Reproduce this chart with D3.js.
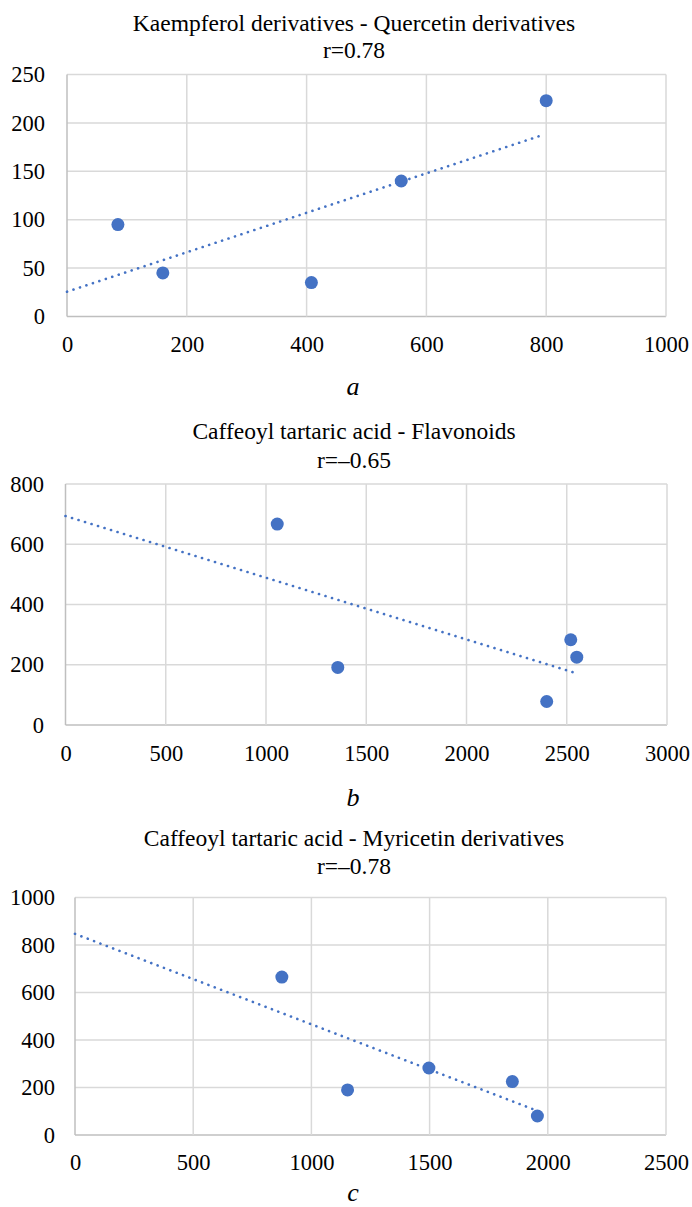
<!DOCTYPE html>
<html>
<head>
<meta charset="utf-8">
<script src="https://cdn.jsdelivr.net/npm/d3@7"></script>
<style>
  html, body { margin: 0; padding: 0; background: #fff; }
</style>
</head>
<body>
<svg id="chart" width="692" height="1207"></svg>
<script>
// --- data ---
const titlesA = ['Kaempferol derivatives - Quercetin derivatives', 'r=0.78'];
const xA = [85, 160, 408, 558, 800];
const yA = [95, 45, 35, 140, 223];
const xTicksA = [0, 200, 400, 600, 800, 1000];
const yTicksA = [0, 50, 100, 150, 200, 250];

const titlesB = ['Caffeoyl tartaric acid - Flavonoids', 'r=\u20130.65'];
const xB = [1056, 1358, 2400, 2520, 2550];
const yB = [667, 191, 78, 283, 225];
const xTicksB = [0, 500, 1000, 1500, 2000, 2500, 3000];
const yTicksB = [0, 200, 400, 600, 800];

const titlesC = ['Caffeoyl tartaric acid - Myricetin derivatives', 'r=\u20130.78'];
const xC = [875, 1153, 1497, 1850, 1956];
const yC = [665, 190, 282, 225, 80];
const xTicksC = [0, 500, 1000, 1500, 2000, 2500];
const yTicksC = [0, 200, 400, 600, 800, 1000];

const captions = ['a', 'b', 'c'];

// --- layout of each panel (pixels; t1/t2/xl/cy are text baselines) ---
const panels = [
  { titles: titlesA, xs: xA, ys: yA, xt: xTicksA, yt: yTicksA, cap: captions[0],
    left: 67, right: 666, top: 74.5, bottom: 316.5, yr: 45, t1: 31, t2: 58, xl: 352, cy: 395 },
  { titles: titlesB, xs: xB, ys: yB, xt: xTicksB, yt: yTicksB, cap: captions[1],
    left: 65.5, right: 667, top: 484, bottom: 725, yr: 44, t1: 439, t2: 467.5, xl: 761, cy: 806 },
  { titles: titlesC, xs: xC, ys: yC, xt: xTicksC, yt: yTicksC, cap: captions[2],
    left: 75, right: 666, top: 897.5, bottom: 1135, yr: 55, t1: 845.5, t2: 874, xl: 1170, cy: 1201 }
];

const FONT = 'Liberation Serif';
const blue = '#4472C4';
const grid = '#d9d9d9';
const svg = d3.select('#chart');

panels.forEach(p => {
  const x = d3.scaleLinear().domain(d3.extent(p.xt)).range([p.left, p.right]);
  const y = d3.scaleLinear().domain(d3.extent(p.yt)).range([p.bottom, p.top]);
  const g = svg.append('g');
  const cx = 354;

  // title, two lines
  g.selectAll('text.title').data(p.titles).join('text')
    .attr('class', 'title')
    .attr('x', cx).attr('y', (d, i) => i === 0 ? p.t1 : p.t2)
    .attr('text-anchor', 'middle').attr('font-family', FONT).attr('font-size', '23.5px')
    .attr('fill', '#000').text(d => d);

  // grid
  g.append('g').selectAll('line').data(p.yt).join('line')
    .attr('x1', p.left).attr('x2', p.right)
    .attr('y1', d => y(d)).attr('y2', d => y(d))
    .attr('stroke', d => d === 0 ? '#bfbfbf' : grid).attr('stroke-width', 1.5);
  g.append('g').selectAll('line').data(p.xt).join('line')
    .attr('y1', p.top).attr('y2', p.bottom)
    .attr('x1', d => x(d)).attr('x2', d => x(d))
    .attr('stroke', d => d === 0 ? '#bfbfbf' : grid).attr('stroke-width', 1.5);

  // axes labels
  const xAxis = d3.axisBottom(x).tickValues(p.xt).tickSize(0).tickPadding(0).tickFormat(d3.format('d'));
  const xg = g.append('g').attr('transform', `translate(0,${p.xl})`).call(xAxis)
    .attr('font-family', FONT).attr('font-size', 22.5);
  xg.select('.domain').remove();
  xg.selectAll('text').attr('y', 0).attr('dy', 0).attr('fill', '#000');

  const yAxis = d3.axisLeft(y).tickValues(p.yt).tickSize(0).tickPadding(0).tickFormat(d3.format('d'));
  const yg = g.append('g').attr('transform', `translate(${p.yr},0)`).call(yAxis)
    .attr('font-family', FONT).attr('font-size', 22.5);
  yg.select('.domain').remove();
  yg.selectAll('text').attr('fill', '#000');

  // linear trendline (least squares over the points)
  const mx = d3.mean(p.xs), my = d3.mean(p.ys);
  const sxy = d3.sum(p.xs, (v, i) => (v - mx) * (p.ys[i] - my));
  const sxx = d3.sum(p.xs, v => (v - mx) * (v - mx));
  const slope = sxy / sxx, icpt = my - slope * mx;
  const x0 = 0, x1 = d3.max(p.xs) - 8;
  g.append('line')
    .attr('x1', x(x0)).attr('y1', y(icpt + slope * x0))
    .attr('x2', x(x1)).attr('y2', y(icpt + slope * x1))
    .attr('stroke', blue).attr('stroke-width', 2.6)
    .attr('stroke-linecap', 'round').attr('stroke-dasharray', '0.1 6.7');

  // points
  g.append('g').selectAll('circle').data(p.xs).join('circle')
    .attr('cx', d => x(d)).attr('cy', (d, i) => y(p.ys[i]))
    .attr('r', 6.5).attr('fill', blue);

  // caption
  g.append('text').attr('x', cx - 1).attr('y', p.cy)
    .attr('text-anchor', 'middle').attr('font-family', FONT)
    .attr('font-size', '26px').attr('font-style', 'italic').attr('fill', '#000')
    .text(p.cap);
});
</script>
</body>
</html>
